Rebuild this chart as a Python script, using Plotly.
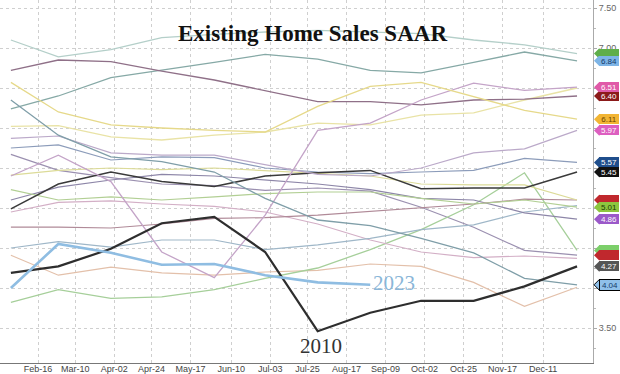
import plotly.graph_objects as go

months = ["2023-01-31", "2023-02-28", "2023-03-31", "2023-04-30", "2023-05-31", "2023-06-30",
          "2023-07-31", "2023-08-31", "2023-09-30", "2023-10-31", "2023-11-30", "2023-12-31"]

tick_dates = ["2023-02-16", "2023-03-10", "2023-04-02", "2023-04-24", "2023-05-17", "2023-06-10",
              "2023-07-03", "2023-07-25", "2023-08-17", "2023-09-09", "2023-10-02", "2023-10-25",
              "2023-11-17", "2023-12-11"]
tick_text = ["Feb-16", "Mar-10", "Apr-02", "Apr-24", "May-17", "Jun-10", "Jul-03", "Jul-25",
             "Aug-17", "Sep-09", "Oct-02", "Oct-25", "Nov-17", "Dec-11"]

y_ticks = [3.5, 4.0, 4.5, 5.0, 5.5, 6.0, 6.5, 7.0, 7.5]
# labels hidden behind the value tags in the original are left blank
y_tick_text = ["3.50", "", "4.50", "", "", "", "", "7.00", "7.50"]

# existing home sales SAAR (millions), one list per year
y2003 = [6.02, 6.03, 5.89, 5.85, 5.91, 5.95, 6.06, 6.04, 6.16, 6.19, 6.35, 6.50]
y2004 = [6.24, 6.40, 6.63, 6.72, 6.82, 6.92, 6.86, 6.72, 6.69, 6.82, 6.95, 6.84]
y2005 = [7.10, 6.89, 6.98, 7.13, 7.17, 7.20, 7.22, 7.20, 7.18, 7.10, 7.04, 6.93]
y2006 = [6.72, 6.85, 6.83, 6.71, 6.60, 6.47, 6.33, 6.33, 6.29, 6.35, 6.36, 6.40]
y2007 = [5.67, 5.47, 5.38, 5.30, 5.28, 5.22, 5.25, 5.21, 5.01, 4.76, 4.47, 4.41]
y2008 = [4.41, 4.16, 4.26, 4.19, 4.16, 4.20, 4.22, 4.30, 4.27, 4.07, 3.77, 4.01]
y2009 = [3.82, 3.98, 3.87, 3.89, 3.98, 4.12, 4.25, 4.48, 4.73, 5.04, 5.44, 4.47]
y2010 = [4.19, 4.27, 4.49, 4.81, 4.89, 4.45, 3.46, 3.69, 3.84, 3.84, 4.02, 4.27]
y2011 = [4.95, 5.07, 5.09, 5.05, 5.02, 4.95, 4.80, 4.60, 4.45, 4.38, 4.40, 4.37]
y2012 = [4.50, 4.58, 4.51, 4.60, 4.60, 4.48, 4.54, 4.62, 4.73, 4.79, 4.95, 5.03]
y2013 = [5.10, 5.26, 5.35, 5.42, 5.40, 5.35, 5.30, 5.23, 5.12, 5.10, 4.94, 4.86]
y2014 = [4.76, 4.76, 4.75, 4.80, 4.87, 4.88, 4.91, 4.96, 5.00, 5.05, 5.11, 5.10]
y2015 = [5.23, 5.10, 5.14, 5.10, 5.14, 5.18, 5.20, 5.20, 5.12, 5.05, 5.10, 5.01]
y2016 = [5.41, 5.47, 5.50, 5.48, 5.50, 5.47, 5.43, 5.40, 5.30, 5.29, 5.29, 5.10]
y2017 = [5.75, 5.79, 5.60, 5.64, 5.63, 5.50, 5.45, 5.43, 5.45, 5.47, 5.62, 5.57]
y2018 = [4.99, 5.30, 5.45, 5.33, 5.27, 5.40, 5.44, 5.47, 5.24, 5.25, 5.25, 5.45]
y2019 = [5.87, 5.90, 5.69, 5.66, 5.66, 5.54, 5.42, 5.40, 5.50, 5.69, 5.74, 5.97]
y2020 = [5.40, 5.66, 5.33, 4.45, 4.13, 4.91, 5.97, 6.06, 6.35, 6.56, 6.47, 6.51]
y2021 = [6.57, 6.20, 6.04, 6.00, 5.97, 5.95, 6.27, 6.52, 6.57, 6.39, 6.22, 6.11]
y2022 = [6.35, 5.91, 5.64, 5.58, 5.45, 5.12, 4.85, 4.78, 4.62, 4.44, 4.12, 4.04]
y2023 = [4.00, 4.55, 4.44, 4.29, 4.30, 4.16, 4.07, 4.04]

series = [
    ("2003", y2003, "#e9e3a6", 1.3),
    ("2004", y2004, "#86a9a6", 1.3),
    ("2005", y2005, "#b4cfc9", 1.3),
    ("2006", y2006, "#8f7088", 1.3),
    ("2007", y2007, "#9b90b0", 1.2),
    ("2008", y2008, "#e3c0aa", 1.2),
    ("2009", y2009, "#a6cf9a", 1.3),
    ("2011", y2011, "#d3afc6", 1.2),
    ("2012", y2012, "#9fb7c8", 1.2),
    ("2013", y2013, "#8d86a8", 1.2),
    ("2014", y2014, "#b08a98", 1.2),
    ("2015", y2015, "#b2cf94", 1.2),
    ("2016", y2016, "#dcdb98", 1.2),
    ("2017", y2017, "#8c9cba", 1.2),
    ("2018", y2018, "#3a3a3a", 1.5),
    ("2019", y2019, "#bba9c9", 1.2),
    ("2020", y2020, "#c4a4c8", 1.3),
    ("2021", y2021, "#e6d98a", 1.3),
    ("2022", y2022, "#7f9ea8", 1.3),
    ("2010", y2010, "#2e2e2e", 2.2),
    ("2023", y2023, "#8fbde2", 2.6),
]

fig = go.Figure()
for name, vals, col, w in series:
    fig.add_trace(go.Scatter(x=months[:len(vals)], y=vals, mode="lines", name=name,
                             line=dict(color=col, width=w), showlegend=False))

# right-hand value tags (series, background, text colour, border, show text)
tags = [
    (y2005, "#5fae4a", "#ffffff", None, False),
    (y2004, "#7db4e6", "#163a6a", None, True),
    (y2006, "#8b1a1a", "#ffffff", None, True),
    (y2020, "#e05aa8", "#ffffff", None, True),
    (y2021, "#f2b534", "#6b4400", None, True),
    (y2019, "#dd5fc0", "#ffffff", None, True),
    (y2017, "#1f4e8c", "#ffffff", None, True),
    (y2018, "#111111", "#ffffff", None, True),
    (y2014, "#c0282d", "#ffffff", None, False),
    (y2015, "#8dc63f", "#1c3d00", None, True),
    (y2013, "#9b59c9", "#ffffff", None, True),
    (y2009, "#7ccf6a", "#ffffff", None, False),
    (y2007, "#c0282d", "#ffffff", None, False),
    (y2010, "#555555", "#ffffff", None, True),
    (y2023, "#8fc0ea", "#163a6a", "#000000", True),
]

plot_w = 593.0
plot_h = 363.0
y_lo, y_hi = 3.0625, 7.6
half = 5.5 * (y_hi - y_lo) / plot_h
shapes = []
annotations = []
for vals, bg, fg, border, show in tags:
    v = vals[-1]
    xp = 594 / plot_w
    x1 = 599.5 / plot_w
    shapes.append(dict(type="path", xref="paper", yref="paper", layer="above",
                       path=f"M {xp},{(v - y_lo) / (y_hi - y_lo)} L {x1},{(v + half - y_lo) / (y_hi - y_lo)} "
                            f"L {x1},{(v - half - y_lo) / (y_hi - y_lo)} Z",
                       fillcolor=bg, line=dict(color=border if border else bg, width=1 if border else 0)))
    annotations.append(dict(xref="paper", yref="paper", x=599 / plot_w, y=(v - y_lo) / (y_hi - y_lo),
                            xanchor="left", yanchor="middle",
                            text=f"{v:.2f}" if show else "", showarrow=False, width=20, height=10,
                            bgcolor=bg, bordercolor=border if border else bg,
                            borderwidth=1 if border else 0, borderpad=0,
                            font=dict(size=8, color=fg, family="Liberation Sans Narrow, Arial, sans-serif"),
                            align="center"))

annotations.append(dict(xref="paper", yref="paper", x=312 / plot_w, y=(plot_h - 33) / plot_h,
                        text="<b>Existing Home Sales SAAR</b>", showarrow=False,
                        font=dict(size=23, color="#111111", family="Liberation Serif, Times New Roman, serif"),
                        xanchor="center", yanchor="middle"))
annotations.append(dict(xref="x", yref="y", x="2023-09-14", y=4.06, text="2023", showarrow=False,
                        font=dict(size=21, color="#8ab6d8", family="Liberation Serif, Times New Roman, serif"),
                        xanchor="center", yanchor="middle"))
annotations.append(dict(xref="x", yref="y", x="2023-08-02", y=3.27, text="2010", showarrow=False,
                        font=dict(size=21, color="#333333", family="Liberation Serif, Times New Roman, serif"),
                        xanchor="center", yanchor="middle"))

fig.update_layout(
    width=620, height=374,
    margin=dict(l=0, r=27, t=0, b=11, autoexpand=False),
    paper_bgcolor="white", plot_bgcolor="white",
    shapes=shapes, annotations=annotations,
    xaxis=dict(type="date", range=["2023-01-24 14:00", "2024-01-09 10:00"], automargin=False,
               tickvals=tick_dates, ticktext=tick_text,
               showgrid=True, gridcolor="#cfcfcf", griddash="dot", gridwidth=1,
               showline=True, linecolor="#777777", linewidth=1, ticks="", zeroline=False,
               ticklabelstandoff=-3,
               tickfont=dict(size=9, color="#444444", family="Liberation Sans Narrow, Arial, sans-serif")),
    yaxis=dict(side="right", range=[y_lo, y_hi], tickvals=y_ticks, automargin=False,
               ticktext=y_tick_text,
               showgrid=True, gridcolor="#cfcfcf", griddash="dot", gridwidth=1,
               showline=True, linecolor="#aaaaaa", linewidth=1, ticks="outside", ticklen=3,
               tickcolor="#aaaaaa", zeroline=False,
               minor=dict(dtick=0.25, ticks="outside", ticklen=2, tickcolor="#bbbbbb", showgrid=False),
               tickfont=dict(size=9, color="#666666", family="Liberation Sans Narrow, Arial, sans-serif")),
)

fig.write_html("out.html", config={"displayModeBar": False},
               post_script="document.body.style.margin='0';document.body.style.overflow='hidden';")
